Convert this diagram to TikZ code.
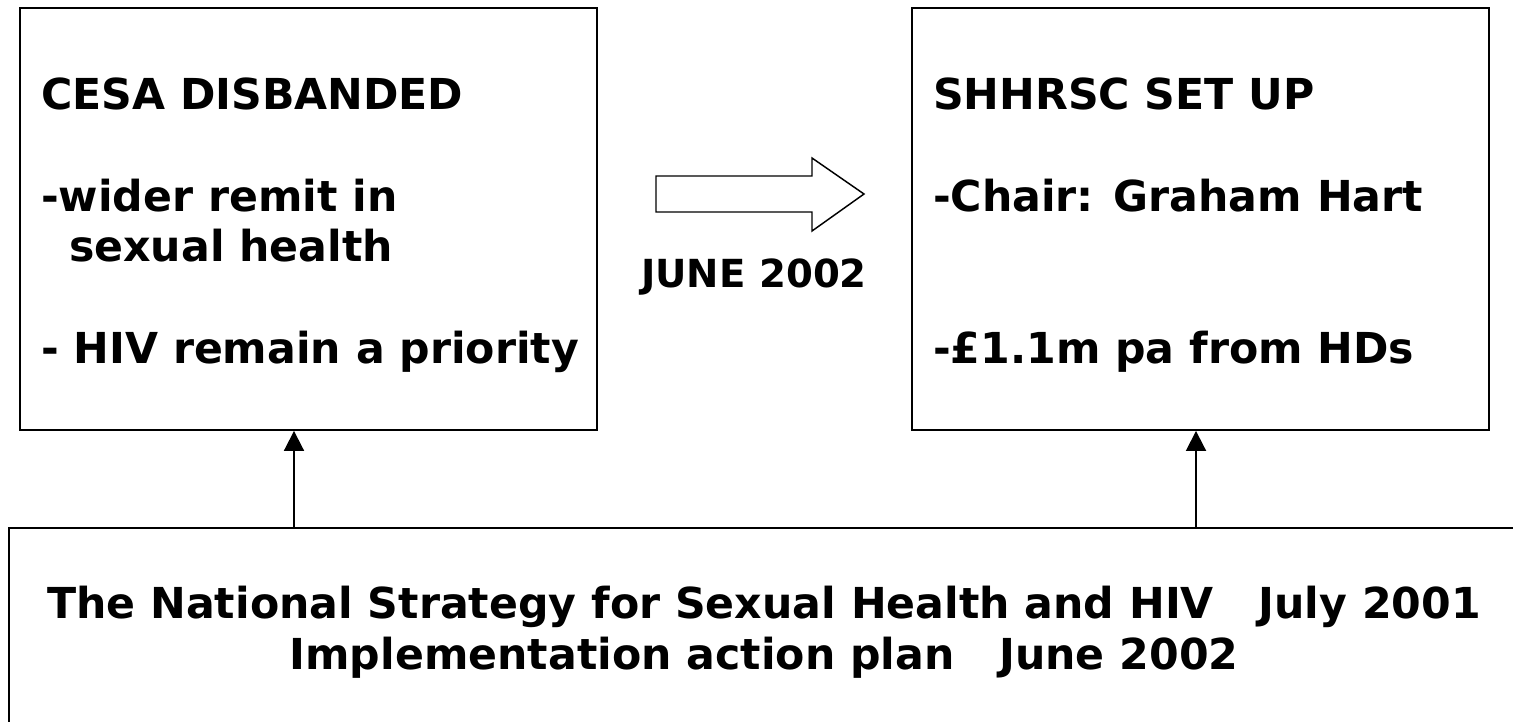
\documentclass[tikz,border=0pt]{standalone}
\usepackage{fontspec}
\setmainfont{DejaVu Sans}
\usetikzlibrary{arrows.meta}

\begin{document}
\begin{tikzpicture}[x=0.75pt,y=-0.75pt,line width=1.4pt]
% Styles
\tikzstyle{frame box}=[draw,inner sep=0pt,minimum width=432.75pt,minimum height=316.5pt]
\tikzstyle{frame text}=[anchor=north west,align=left,inner sep=0pt,font=\bfseries\fontsize{32}{38}\selectfont]
\tikzstyle{up arrow}=[-{Triangle[length=15pt,width=15pt]}]
% The graphic
\useasboundingbox (0,0) rectangle (1513,721);
\clip (0,0) rectangle (1513,721);
% the two boxes on top
\node[frame box] (cesa) at (308.5,219) {};
\node[frame box] (shhrsc) at (1200.5,219) {};
\node[frame text] (cesatext) at ([shift={(21,70)}]cesa.north west)
  {CESA DISBANDED\\[38pt]-wider remit in\\\hspace*{21pt}sexual health\\[38pt]- HIV remain a priority};
\node[frame text] (shhrsctext) at ([shift={(21,70)}]shhrsc.north west)
  {SHHRSC SET UP\\[38pt]-Chair: Graham Hart\\[76pt]-£1.1m pa from HDs};
% the block arrow between them
\draw[line width=1.1pt] (656,176) -- (812,176) -- (812,158) -- (864,194)
  -- (812,231) -- (812,212) -- (656,212) -- cycle;
\node[anchor=base,inner sep=0pt,font=\bfseries\fontsize{29}{34}\selectfont] (june) at (754,287) {JUNE 2002};
% the strategy box at the bottom
\node[draw,inner sep=0pt,minimum width=1132.5pt,minimum height=156pt,align=center,
  font=\bfseries\fontsize{32}{38}\selectfont] (nsp) at (764,632)
  {The National Strategy for Sexual Health and HIV\ \ \ July 2001\\Implementation action plan\ \ \ June 2002};
% arrows up
\coordinate (leftfoot) at (294,528);
\coordinate (rightfoot) at (1196,528);
\draw[up arrow] (leftfoot) -- (leftfoot |- cesa.south);
\draw[up arrow] (rightfoot) -- (rightfoot |- shhrsc.south);
\end{tikzpicture}
\end{document}
